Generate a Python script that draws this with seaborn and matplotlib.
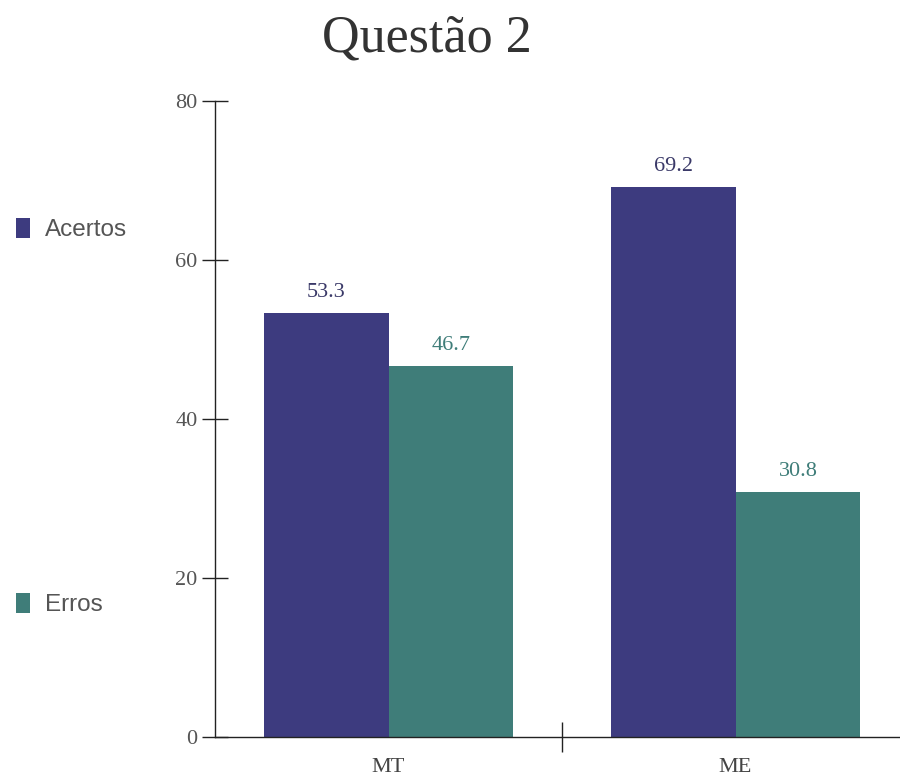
import matplotlib
matplotlib.use("Agg")
import matplotlib.pyplot as plt
import seaborn as sns
import pandas as pd

# Question 2 results, percentage per group
categories = ["MT", "ME"]
series_names = ["Acertos", "Erros"]
acertos = [53.3, 69.2]
erros = [46.7, 30.8]
y_ticks = [0, 20, 40, 60, 80]
title = "Questão 2"

colors = {"Acertos": "#3d3b7f", "Erros": "#3f7d79"}
label_colors = {"Acertos": "#3a3968", "Erros": "#3f7d79"}

df = pd.DataFrame({
    "grupo": categories * 2,
    "serie": [series_names[0]] * len(categories) + [series_names[1]] * len(categories),
    "valor": acertos + erros,
})

sns.set_style("white")
serif = ["Liberation Serif", "DejaVu Serif"]
sans = ["Liberation Sans", "DejaVu Sans"]

fig = plt.figure(figsize=(9.0, 7.79), dpi=100)
ax = fig.add_axes([215 / 900, 42 / 779, 694 / 900, 636 / 779])

sns.barplot(data=df, x="grupo", y="valor", hue="serie", order=categories,
            hue_order=series_names, palette=colors, width=0.72, dodge=True,
            saturation=1, linewidth=0, edgecolor="none", ax=ax, legend=True)

ax.set_xlim(-0.5, 1.5)
ax.set_ylim(0, 80)
ax.set_xlabel("")
ax.set_ylabel("")
ax.set_yticks(y_ticks)
ax.set_yticklabels([str(v) for v in y_ticks], fontfamily=serif, fontsize=16, color="#555555")
ax.set_xticks(range(len(categories)))
ax.set_xticklabels(categories, fontfamily=serif, fontsize=16, color="#444444")

ax.tick_params(axis="both", which="both", left=True, bottom=True)
ax.tick_params(axis="x", which="major", length=0, pad=15)
ax.set_xticks([0.5], minor=True)
ax.tick_params(axis="x", which="minor", direction="inout", length=21, width=1, color="#222222")
ax.tick_params(axis="y", which="major", direction="inout", length=19, width=1,
               color="#222222", pad=3)

for side in ["top", "right"]:
    ax.spines[side].set_visible(False)
for side in ["left", "bottom"]:
    ax.spines[side].set_color("#222222")
    ax.spines[side].set_linewidth(1)
ax.grid(False)

# value labels above each bar
for cont, name in zip(ax.containers, series_names):
    ax.bar_label(cont, labels=[f"{v:.1f}" for v in cont.datavalues], padding=8,
                 fontfamily=serif, fontsize=16, color=label_colors[name])

# legend placed along the left edge of the figure
handles, labels = ax.get_legend_handles_labels()
ax.get_legend().remove()
fig.legend(handles, labels, loc="upper left", bbox_to_anchor=(16 / 900, 1 - 218 / 779),
           frameon=False, prop={"family": sans, "size": 17.5}, labelcolor="#555555",
           handlelength=0.58, handleheight=0.9, handletextpad=0.62,
           labelspacing=14.45, borderaxespad=0, borderpad=0)

fig.text(427 / 900, 1 - 39 / 779, title, ha="center", va="center",
         fontfamily=serif, fontsize=37.5, color="#333333")

fig.savefig("out.png", dpi=100, facecolor="white")
